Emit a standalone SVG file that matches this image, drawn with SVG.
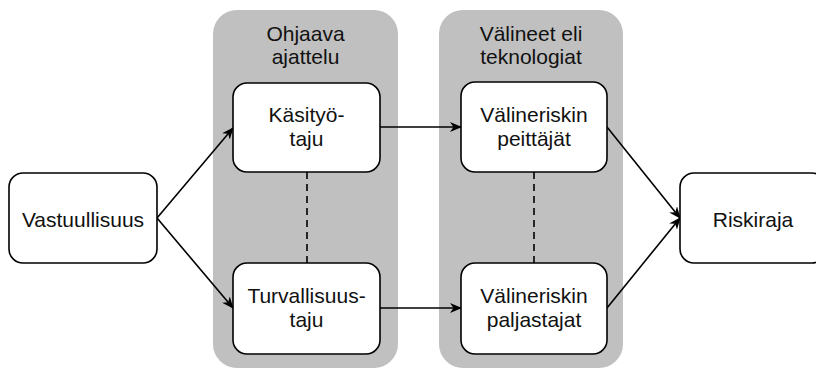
<svg xmlns="http://www.w3.org/2000/svg" width="816" height="373" viewBox="0 0 816 373">
<style>
.panel{fill:#c0c0c0;stroke:none}
.box{fill:#fff;stroke:#000;stroke-width:1.6}
.t{font-family:"Liberation Sans",Arial,sans-serif;font-size:21px;fill:#111;text-anchor:middle}
.c{fill:none;stroke:#000;stroke-width:1.6}
.d{fill:none;stroke:#000;stroke-width:1.6;stroke-dasharray:7,5}
</style>
<defs>
<marker id="ah" viewBox="0 0 12 10" refX="11" refY="5" markerWidth="12" markerHeight="10" markerUnits="userSpaceOnUse" orient="auto">
<path d="M0,0 L12,5 L0,10 L3.5,5 Z" fill="#000"/>
</marker>
</defs>
<g id="panel-ohjaava">
<rect class="panel" x="213" y="10" width="185" height="358" rx="24"/>
<text class="t" x="305.5" y="41">Ohjaava</text>
<text class="t" x="305.5" y="64">ajattelu</text>
</g>
<g id="panel-valineet">
<rect class="panel" x="439" y="10" width="184" height="358" rx="24"/>
<text class="t" x="531" y="41">Välineet eli</text>
<text class="t" x="531" y="64">teknologiat</text>
</g>
<g id="connectors">
<line class="c" x1="157" y1="218" x2="233" y2="128" marker-end="url(#ah)"/>
<line class="c" x1="157" y1="218" x2="233" y2="308" marker-end="url(#ah)"/>
<line class="c" x1="380" y1="127" x2="461" y2="127" marker-end="url(#ah)"/>
<line class="c" x1="380" y1="308" x2="461" y2="308" marker-end="url(#ah)"/>
<line class="c" x1="607" y1="127" x2="680" y2="218" marker-end="url(#ah)"/>
<line class="c" x1="607" y1="308" x2="680" y2="218" marker-end="url(#ah)"/>
<line class="d" x1="307" y1="172" x2="307" y2="263"/>
<line class="d" x1="534" y1="172" x2="534" y2="263"/>
</g>
<g id="vastuullisuus">
<rect class="box" x="9" y="173" width="148" height="90" rx="14"/>
<text class="t" x="83" y="227">Vastuullisuus</text>
</g>
<g id="kasityotaju">
<rect class="box" x="233" y="83" width="147" height="89" rx="14"/>
<text class="t" x="306.5" y="122">Käsityö-</text>
<text class="t" x="306.5" y="146">taju</text>
</g>
<g id="turvallisuustaju">
<rect class="box" x="233" y="263" width="147" height="91" rx="14"/>
<text class="t" x="306.5" y="303">Turvallisuus-</text>
<text class="t" x="306.5" y="327">taju</text>
</g>
<g id="peittajat">
<rect class="box" x="461" y="82" width="146" height="90" rx="14"/>
<text class="t" x="534" y="122">Välineriskin</text>
<text class="t" x="534" y="146">peittäjät</text>
</g>
<g id="paljastajat">
<rect class="box" x="461" y="263" width="146" height="91" rx="14"/>
<text class="t" x="534" y="303">Välineriskin</text>
<text class="t" x="534" y="327">paljastajat</text>
</g>
<g id="riskiraja">
<rect class="box" x="680" y="173" width="146" height="90" rx="14"/>
<text class="t" x="753" y="227">Riskiraja</text>
</g>
</svg>
